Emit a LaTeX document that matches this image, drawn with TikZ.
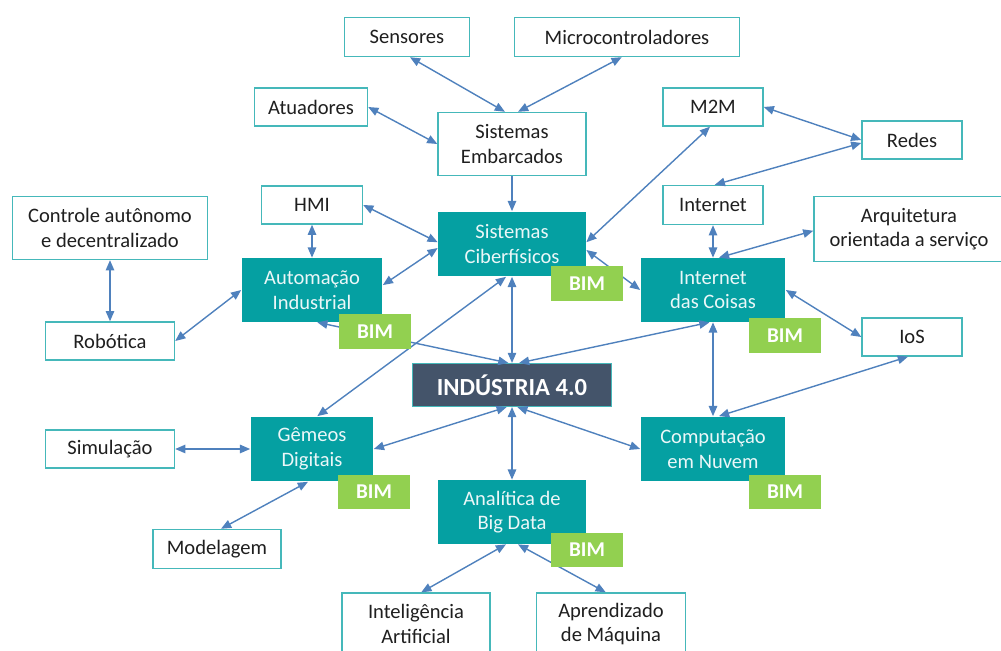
\documentclass[tikz,border=0pt]{standalone}
\usepackage{fontspec}
\setmainfont{Carlito}
\usetikzlibrary{arrows.meta}
\definecolor{tealbox}{HTML}{05A0A2}
\definecolor{tealedge}{HTML}{45B8BA}
\definecolor{darkbox}{HTML}{44546A}
\definecolor{bimgreen}{HTML}{92D050}
\definecolor{linkblue}{HTML}{4F81BD}
\begin{document}
\begin{tikzpicture}[x=0.02cm,y=-0.02cm,
        box/.style={draw=tealedge,line width=0.8pt,fill=white,align=center,inner sep=0pt,
            font=\fontsize{11.7}{14}\selectfont,text=black!88},
        hub/.style={fill=tealbox,align=center,inner sep=0pt,
            font=\fontsize{11.7}{14}\selectfont,text=white!92!tealbox},
        core/.style={fill=darkbox,draw=tealedge,line width=0.6pt,inner sep=0pt,
            font=\fontsize{14}{16}\selectfont\bfseries,text=white,
            minimum width=3.98cm,minimum height=0.86cm},
        bim/.style={fill=bimgreen,inner sep=0pt,minimum width=1.44cm,minimum height=0.7cm,
            font=\fontsize{12}{14}\selectfont\bfseries,text=white},
        link/.style={draw=linkblue,line width=0.8pt,
            {Triangle[length=5.8pt,width=4.8pt]}-{Triangle[length=5.8pt,width=4.8pt]}},
        onelink/.style={draw=linkblue,line width=0.8pt,-{Triangle[length=5.8pt,width=4.8pt]}}]
        \useasboundingbox (0,0) rectangle (1001,651);

        \node[box,minimum width=2.5cm,minimum height=0.78cm] (sen) at (407,37) {Sensores};
        \node[box,minimum width=4.5cm,minimum height=0.78cm] (mic) at (627,37) {Microcontroladores};
        \node[box,minimum width=2.26cm,minimum height=0.76cm] (atu) at (311,107) {Atuadores};
        \node[box,minimum width=2.96cm,minimum height=1.26cm] (emb) at (512,144) {Sistemas\\Embarcados};
        \node[box,minimum width=2cm,minimum height=0.76cm] (m2m) at (713,107) {M2M};
        \node[box,minimum width=2cm,minimum height=0.76cm] (redes) at (912,140) {Redes};
        \node[box,minimum width=3.9cm,minimum height=1.26cm] (ctl) at (110,228) {Controle autônomo\\e decentralizado};
        \node[box,minimum width=2.02cm,minimum height=0.76cm] (hmi) at (312,205) {HMI};
        \node[box,minimum width=2cm,minimum height=0.78cm] (inet) at (713,205) {Internet};
        \node[box,minimum width=3.8cm,minimum height=1.3cm] (arq) at (909,229) {Arquitetura\\orientada a serviço};
        \node[box,minimum width=2.58cm,minimum height=0.76cm] (rob) at (110,341) {Robótica};
        \node[box,minimum width=2cm,minimum height=0.76cm] (ios) at (912,337) {IoS};
        \node[box,minimum width=2.58cm,minimum height=0.76cm] (sim) at (110,449) {Simulação};
        \node[box,minimum width=2.56cm,minimum height=0.78cm] (mod) at (217,549) {Modelagem};
        \node[box,minimum width=2.96cm,minimum height=1.24cm] (ia) at (416,624) {Inteligência\\Artificial};
        \node[box,minimum width=2.98cm,minimum height=1.24cm] (apr) at (611,624) {Aprendizado\\de Máquina};

        \node[hub,minimum width=2.96cm,minimum height=1.3cm] (ciber) at (512,244) {Sistemas\\Ciberfísicos};
        \node[hub,minimum width=2.82cm,minimum height=1.28cm] (aut) at (312,290) {Automação\\Industrial};
        \node[hub,minimum width=2.9cm,minimum height=1.28cm] (iot) at (713,290) {Internet\\das Coisas};
        \node[hub,minimum width=2.46cm,minimum height=1.3cm] (gem) at (312,449) {Gêmeos\\Digitais};
        \node[hub,minimum width=2.9cm,minimum height=1.3cm] (comp) at (713,449) {Computação\\em Nuvem};
        \node[hub,minimum width=2.98cm,minimum height=1.28cm] (ana) at (512,512) {Analítica de\\Big Data};
        \node[core] (ind) at (512,385) {INDÚSTRIA 4.0};

        \draw[link] ([xshift=1.7pt]sen.south) -- ([xshift=-4pt]emb.north);
        \draw[link] ([xshift=-3pt]mic.south) -- ([xshift=3.4pt]emb.north);
        \draw[link] (atu.east) -- (emb.west);
        \draw[onelink] (emb.south) -- (ciber.north);
        \draw[link] (hmi.east) -- ([yshift=1pt]ciber.west);
        \draw[link] ([yshift=2.8pt]aut.east) -- ([yshift=-2.3pt]ciber.west);
        \draw[link] (hmi.south) -- (aut.north);
        \draw[link] (rob.east) -- (aut.west);
        \draw[link] (ctl.south) -- (rob.north);
        \draw[link] ([xshift=-1.7pt]m2m.south) -- ([yshift=1pt]ciber.east);
        \draw[link] (m2m.east) -- (redes.west);
        \draw[link] ([yshift=-1.7pt]redes.west) -- ([xshift=1pt]inet.north);
        \draw[link] (inet.south) -- (iot.north);
        \draw[link] ([yshift=-1pt]arq.west) -- ([xshift=3.4pt]iot.north);
        \draw[link] ([yshift=-3.4pt]ciber.east) -- (iot.west);
        \draw[link] (iot.east) -- (ios.west);
        \draw[link] (ciber.south) -- (ind.north);
        \draw[link] ([xshift=3pt]aut.south) -- ([xshift=-2pt]ind.north);
        \draw[link] ([xshift=-2pt]iot.south) -- ([xshift=4pt]ind.north);
        \draw[link] ([xshift=3pt]gem.north) -- ([xshift=-3.4pt]ciber.south);
        \draw[link] ([xshift=-3pt]ind.south) -- (gem.east);
        \draw[link] ([xshift=3pt]ind.south) -- (comp.west);
        \draw[link] (ind.south) -- (ana.north);
        \draw[link] (iot.south) -- (comp.north);
        \draw[link] ([xshift=-2.3pt]ios.south) -- ([xshift=3.4pt]comp.north);
        \draw[link] (sim.east) -- (gem.west);
        \draw[link] ([xshift=-2.3pt]gem.south) -- ([xshift=2.3pt]mod.north);
        \draw[link] ([xshift=-3.4pt]ana.south) -- ([xshift=3pt]ia.north);
        \draw[link] ([xshift=3.4pt]ana.south) -- ([xshift=-3pt]apr.north);

        \foreach \n/\x/\y in {ciber/587/284, aut/375/332, iot/785/336, gem/374/492, comp/785/492, ana/587/550}
        {
            \node[bim] (bim\n) at (\x,\y) {BIM};
        }
\end{tikzpicture}
\end{document}
